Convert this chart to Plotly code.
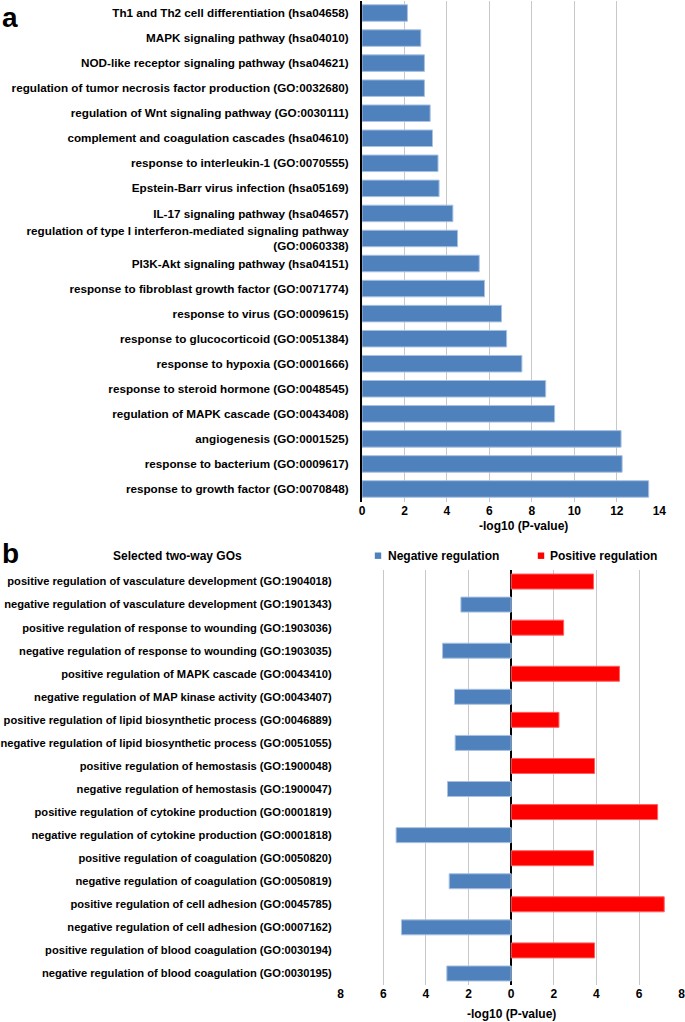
import plotly.graph_objects as go

# ---------- Panel a data ----------
top_terms = [
    "Th1 and Th2 cell differentiation (hsa04658)",
    "MAPK signaling pathway (hsa04010)",
    "NOD-like receptor signaling pathway (hsa04621)",
    "regulation of tumor necrosis factor production (GO:0032680)",
    "regulation of Wnt signaling pathway (GO:0030111)",
    "complement and coagulation cascades (hsa04610)",
    "response to interleukin-1 (GO:0070555)",
    "Epstein-Barr virus infection (hsa05169)",
    "IL-17 signaling pathway (hsa04657)",
    "regulation of type I interferon-mediated signaling pathway<br>(GO:0060338)",
    "PI3K-Akt signaling pathway (hsa04151)",
    "response to fibroblast growth factor (GO:0071774)",
    "response to virus (GO:0009615)",
    "response to glucocorticoid (GO:0051384)",
    "response to hypoxia (GO:0001666)",
    "response to steroid hormone (GO:0048545)",
    "regulation of MAPK cascade (GO:0043408)",
    "angiogenesis (GO:0001525)",
    "response to bacterium (GO:0009617)",
    "response to growth factor (GO:0070848)",
]
top_values = [2.14, 2.77, 2.94, 2.94, 3.21, 3.32, 3.58, 3.63, 4.28, 4.50,
              5.52, 5.77, 6.57, 6.81, 7.53, 8.65, 9.07, 12.2, 12.25, 13.5]
top_ticks = [0, 2, 4, 6, 8, 10, 12, 14]

# ---------- Panel b data ----------
b_terms = [
    "positive regulation of vasculature development (GO:1904018)",
    "negative regulation of vasculature development (GO:1901343)",
    "positive regulation of response to wounding (GO:1903036)",
    "negative regulation of response to wounding (GO:1903035)",
    "positive regulation of MAPK cascade (GO:0043410)",
    "negative regulation of MAP kinase activity (GO:0043407)",
    "positive regulation of lipid biosynthetic process (GO:0046889)",
    "negative regulation of lipid biosynthetic process (GO:0051055)",
    "positive regulation of hemostasis (GO:1900048)",
    "negative regulation of hemostasis (GO:1900047)",
    "positive regulation of cytokine production (GO:0001819)",
    "negative regulation of cytokine production (GO:0001818)",
    "positive regulation of coagulation (GO:0050820)",
    "negative regulation of coagulation (GO:0050819)",
    "positive regulation of cell adhesion (GO:0045785)",
    "negative regulation of cell adhesion (GO:0007162)",
    "positive regulation of blood coagulation (GO:0030194)",
    "negative regulation of blood coagulation (GO:0030195)",
]
b_values = [3.86, 2.36, 2.46, 3.22, 5.08, 2.66, 2.24, 2.63, 3.91, 2.99,
            6.87, 5.40, 3.86, 2.91, 7.18, 5.15, 3.91, 3.02]
b_ticks = [-8, -6, -4, -2, 0, 2, 4, 6, 8]
b_ticktext = ["8", "6", "4", "2", "0", "2", "4", "6", "8"]

series_names = ["Negative regulation", "Positive regulation"]

BLUE = "#4F81BD"
RED = "#FF0000"
FONT = "Liberation Sans"

neg_terms = [t for t in b_terms if t.startswith("negative")]
neg_vals = [-v for t, v in zip(b_terms, b_values) if t.startswith("negative")]
pos_terms = [t for t in b_terms if t.startswith("positive")]
pos_vals = [v for t, v in zip(b_terms, b_values) if t.startswith("positive")]

W, H = 685, 1022

fig = go.Figure()

fig.add_trace(go.Bar(
    x=top_values, y=top_terms, orientation="h",
    marker=dict(color=BLUE, line=dict(color="#A9C1E3", width=1)),
    width=0.66, showlegend=False, xaxis="x", yaxis="y",
))
fig.add_trace(go.Bar(
    x=neg_vals, y=neg_terms, orientation="h", name=series_names[0],
    marker=dict(color=BLUE, line=dict(color="#A9C1E3", width=1)),
    width=0.65, xaxis="x2", yaxis="y2", showlegend=False,
))
fig.add_trace(go.Bar(
    x=pos_vals, y=pos_terms, orientation="h", name=series_names[1],
    marker=dict(color=RED, line=dict(color="#FF6060", width=1)),
    width=0.65, xaxis="x2", yaxis="y2", showlegend=False,
))

grid = "#C8C8C8"


def px(x):
    return x / W


def py(y):
    return 1 - y / H


# legend keys (custom, as in the original layout)
legend_y = 555.7
legend_items = [(series_names[0], BLUE, 378, 386), (series_names[1], RED, 541, 548)]
shapes = []
annotations = []
for name, col, cx, tx in legend_items:
    shapes.append(dict(type="rect", xref="paper", yref="paper",
                       x0=px(cx - 3.2), x1=px(cx + 3.2),
                       y0=py(legend_y + 3.2), y1=py(legend_y - 3.2),
                       fillcolor=col, line=dict(width=0)))
    annotations.append(dict(text="<b>%s</b>" % name, x=px(tx), y=py(legend_y),
                            xref="paper", yref="paper", xanchor="left",
                            yanchor="middle", showarrow=False,
                            font=dict(size=12, family=FONT)))

annotations += [
    dict(text="<b>a</b>", x=px(0), y=py(18), xref="paper", yref="paper",
         xanchor="left", yanchor="middle", showarrow=False,
         font=dict(size=28, family=FONT)),
    dict(text="<b>b</b>", x=px(0), y=py(553), xref="paper", yref="paper",
         xanchor="left", yanchor="middle", showarrow=False,
         font=dict(size=28, family=FONT)),
    dict(text="<b>Selected two-way GOs</b>", x=px(177), y=py(555.5),
         xref="paper", yref="paper", xanchor="center", yanchor="middle",
         showarrow=False, font=dict(size=12, family=FONT)),
    dict(text="<b>-log10 (P-value)</b>", x=px(523), y=py(526),
         xref="paper", yref="paper", xanchor="center", yanchor="middle",
         showarrow=False, font=dict(size=12, family=FONT)),
    dict(text="<b>-log10 (P-value)</b>", x=px(511.5), y=py(1014),
         xref="paper", yref="paper", xanchor="center", yanchor="middle",
         showarrow=False, font=dict(size=12, family=FONT)),
]

fig.update_layout(
    width=W, height=H,
    margin=dict(l=0, r=0, t=0, b=0, autoexpand=False),
    paper_bgcolor="white", plot_bgcolor="white",
    font=dict(family=FONT, color="black"),
    barmode="overlay",
    showlegend=False,
    xaxis=dict(
        domain=[px(362), px(659.3)], anchor="y", automargin=False,
        range=[0, 14], tickvals=top_ticks, ticklabeloverflow="allow",
        showgrid=True, gridcolor=grid, gridwidth=1,
        zeroline=False, showline=False, ticks="",
        tickfont=dict(size=12, family=FONT, weight="bold"),
    ),
    yaxis=dict(
        domain=[py(501.5), py(0.5)], anchor="x", automargin=False,
        categoryorder="array", categoryarray=top_terms, autorange="reversed",
        showline=True, linecolor="black", linewidth=2, ticks="",
        showgrid=False, ticklabelstandoff=9,
        tickfont=dict(size=11.7, family=FONT, weight="bold"),
    ),
    xaxis2=dict(
        domain=[px(340.7), px(681.7)], anchor="y2", automargin=False,
        range=[-8, 8], tickvals=b_ticks, ticktext=b_ticktext,
        ticklabeloverflow="allow",
        showgrid=True, gridcolor=grid, gridwidth=1,
        zeroline=True, zerolinecolor="black", zerolinewidth=2,
        showline=False, ticks="",
        tickfont=dict(size=12, family=FONT, weight="bold"),
    ),
    yaxis2=dict(
        domain=[py(985), py(570)], anchor="x2", automargin=False,
        categoryorder="array", categoryarray=b_terms, autorange="reversed",
        showline=False, ticks="", showgrid=False, ticklabelstandoff=8,
        tickfont=dict(size=11.15, family=FONT, weight="bold"),
    ),
    shapes=shapes,
    annotations=annotations,
)

fig.write_html("out.html",
               config={"displayModeBar": False},
               post_script="document.body.style.margin='0';"
                           "document.body.style.overflow='hidden';")
